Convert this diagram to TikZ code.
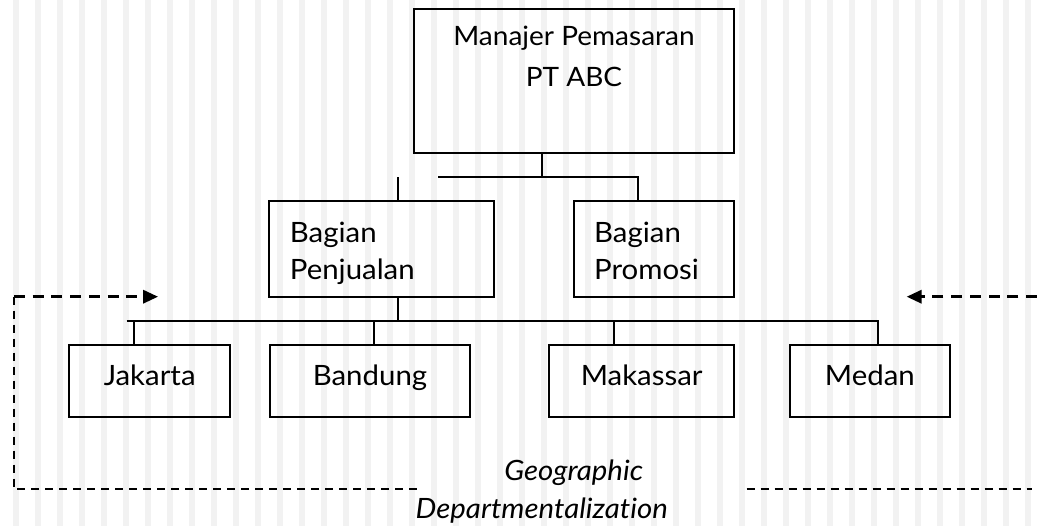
\documentclass[tikz,border=0pt]{standalone}
\usepackage{fontspec}
\setmainfont{Lato}[FakeStretch=1.05, Ligatures=NoCommon]
\usetikzlibrary{arrows.meta}
\definecolor{stripe}{HTML}{F2F2F2}
\tikzset{
  box/.style={draw, line width=1.5pt, inner sep=0pt, fill=none},
  conn/.style={line width=1.3pt},
  thickdash/.style={line width=1.9pt, dash pattern=on 8.25pt off 5.8pt},
  thindash/.style={line width=1.3pt, dash pattern=on 6pt off 4.5pt},
  boxfont/.style={font=\fontsize{21pt}{27.75pt}\selectfont},
  topfont/.style={font=\fontsize{20pt}{30.5pt}\selectfont},
  geofont/.style={font=\fontsize{21pt}{28.2pt}\selectfont\itshape},
  leaf/.style={box, boxfont, text height=10pt, text depth=4pt, minimum height=54pt},
}
\begin{document}
\begin{tikzpicture}[x=0.75pt,y=-0.75pt]
\useasboundingbox (0,0) rectangle (1037,526);
\fill[white] (0,0) rectangle (1037,526);
\foreach \k in {0,...,46} \fill[stripe] ({13+22*\k},0) rectangle ({19+22*\k},526);

% boxes
\node[box, minimum width=240pt, minimum height=108pt] (mgr) at (574,81) {};
\node[topfont, align=center, anchor=base, inner sep=0pt] (mgrtxt) at ([yshift=-58.7pt]mgr.north) {Manajer Pemasaran\\PT ABC};

\node[box, minimum width=168.75pt, minimum height=72pt] (penj) at (381.8,248.7) {};
\node[boxfont, align=left, anchor=base west, inner sep=0pt] (penjtxt) at ([xshift=16pt,yshift=13.8pt]penj.south west) {Bagian\\Penjualan};

\node[box, minimum width=120pt, minimum height=72pt] (promo) at (654,248.7) {};
\node[boxfont, align=left, anchor=base west, inner sep=0pt] (promotxt) at ([xshift=15.7pt,yshift=13.8pt]promo.south west) {Bagian\\Promosi};

\node[leaf, minimum width=120.5pt] (jak) at (149.7,381) {Jakarta};
\node[leaf, minimum width=150pt] (band) at (370,381) {Bandung};
\node[leaf, minimum width=138.5pt] (mak) at (641.7,381) {Makassar};
\node[leaf, minimum width=120.2pt] (med) at (869.9,381) {Medan};

\node[geofont, align=center, anchor=base, inner sep=0pt] (geo) at (541.7,518.3) {\hspace*{48pt}Geographic\\Departmentalization};

% connectors level 1
\coordinate (j1) at (542,177);
\coordinate (busL) at (438,177);
\coordinate (busR) at (638,177);
\coordinate (stemP) at (398,177);
\draw[conn] (mgr.south -| j1) -- (j1);
\draw[conn] (busL) -- (busR) -- (busR |- promo.north);
\draw[conn] (stemP) -- (stemP |- penj.north);

% connectors level 2
\coordinate (stemQ) at (398,321);
\coordinate (bus2L) at (126.7,321);
\coordinate (bus2R) at (877.7,321);
\coordinate (dJ) at (134,321);
\coordinate (dB) at (374,321);
\coordinate (dM) at (614,321);
\draw[conn] (stemQ |- penj.south) -- (stemQ);
\draw[conn] (bus2L) -- (bus2R) -- (bus2R |- med.north);
\draw[conn] (dJ) -- (dJ |- jak.north);
\draw[conn] (dB) -- (dB |- band.north);
\draw[conn] (dM) -- (dM |- mak.north);

% dashed brackets
\coordinate (lc) at (14,296.7);
\coordinate (ltip) at (158,296.7);
\coordinate (lb) at (14,489.3);
\coordinate (lbe) at (421.7,489.3);
\coordinate (rs) at (1037,296.7);
\coordinate (rtip) at (906.7,296.7);
\coordinate (rbs) at (746.7,489.3);
\coordinate (rbe) at (1032,489.3);
\draw[thickdash, -{Triangle[length=11.25pt,width=10pt]}] (lc) -- (ltip);
\draw[thindash] (lc) -- (lb) -- (lbe);
\draw[thickdash, -{Triangle[length=11.25pt,width=10pt]}] (rs) -- (rtip);
\draw[thindash] (rbs) -- (rbe);
\end{tikzpicture}
\end{document}
